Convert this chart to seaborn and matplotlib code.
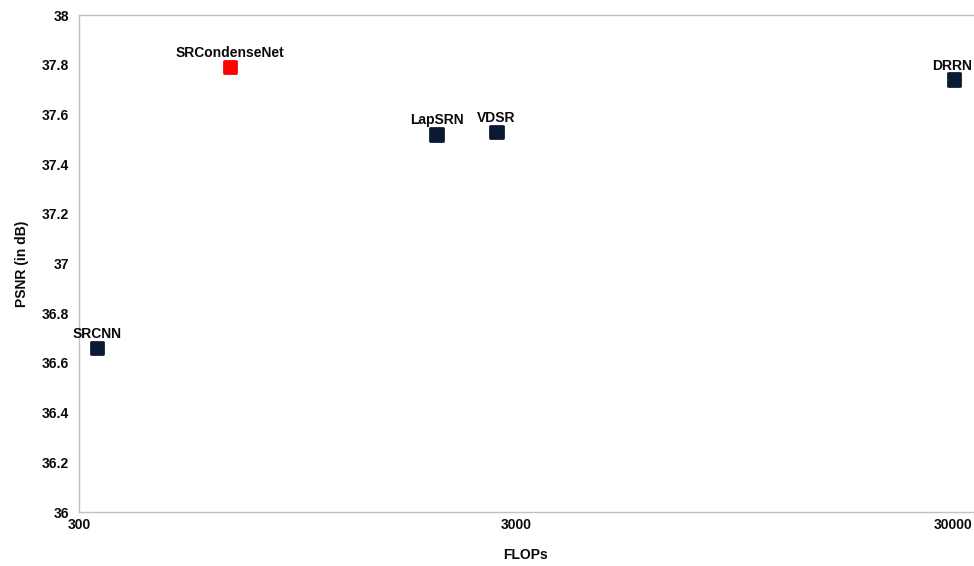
import numpy as np
import pandas as pd
import matplotlib.pyplot as plt
import seaborn as sns

# Data
models = ['SRCNN', 'SRCondenseNet', 'LapSRN', 'VDSR', 'DRRN']
flops = [330, 665, 1975, 2705, 30100]
psnr = [36.66, 37.79, 37.52, 37.53, 37.74]
colors = ['#0b1a33', '#ff0000', '#0b1a33', '#0b1a33', '#0b1a33']

df = pd.DataFrame({'model': models, 'flops': flops, 'psnr': psnr})

sns.set_style('white')
plt.rcParams['font.family'] = ['Liberation Sans', 'DejaVu Sans']

fig = plt.figure(figsize=(9.74, 5.66), dpi=100)
ax = fig.add_axes([0.081, 0.0954, 0.918, 0.878])

sns.scatterplot(data=df, x='flops', y='psnr', hue='model', palette=colors,
                marker='s', s=80, linewidth=2, legend=False, ax=ax, zorder=3)
for coll in ax.collections:
    coll.set_edgecolor(coll.get_facecolor())
    coll.set_joinstyle('round')

# point labels just above each marker
for m, xv, yv in zip(models, flops, psnr):
    ax.annotate(m, (xv, yv), xytext=(-1 if m == 'DRRN' else 0, 5), textcoords='offset points',
                ha='center', va='bottom', fontsize=10, fontweight='bold', color='#0a0a0a')

ax.set_xscale('log')
ax.set_xlim(300, 33300)
ax.set_ylim(36, 38)
ax.set_xticks([300, 3000, 30000])
ax.set_xticklabels(['300', '3000', '30000'])
ax.xaxis.set_minor_locator(plt.NullLocator())
ax.set_yticks(np.arange(36, 38.01, 0.2))
ax.set_yticklabels(['36', '36.2', '36.4', '36.6', '36.8', '37', '37.2', '37.4', '37.6', '37.8', '38'])

for sp in ['left', 'bottom', 'top']:
    ax.spines[sp].set_color('#c0c0c0')
    ax.spines[sp].set_linewidth(1)
ax.spines['right'].set_visible(False)

ax.tick_params(axis='y', direction='out', length=4, color='#c0c0c0', pad=3)
ax.tick_params(axis='x', direction='in', length=4, color='#c0c0c0', pad=4)
for lab in ax.get_xticklabels() + ax.get_yticklabels():
    lab.set_fontweight('bold')
    lab.set_fontsize(10)
    lab.set_color('#0a0a0a')

ax.set_xlabel('FLOPs', fontsize=10, fontweight='bold', labelpad=12, color='#0a0a0a')
ax.set_ylabel('PSNR (in dB)', fontsize=10, fontweight='bold', labelpad=9, color='#0a0a0a')

fig.savefig('out.png', dpi=100)
